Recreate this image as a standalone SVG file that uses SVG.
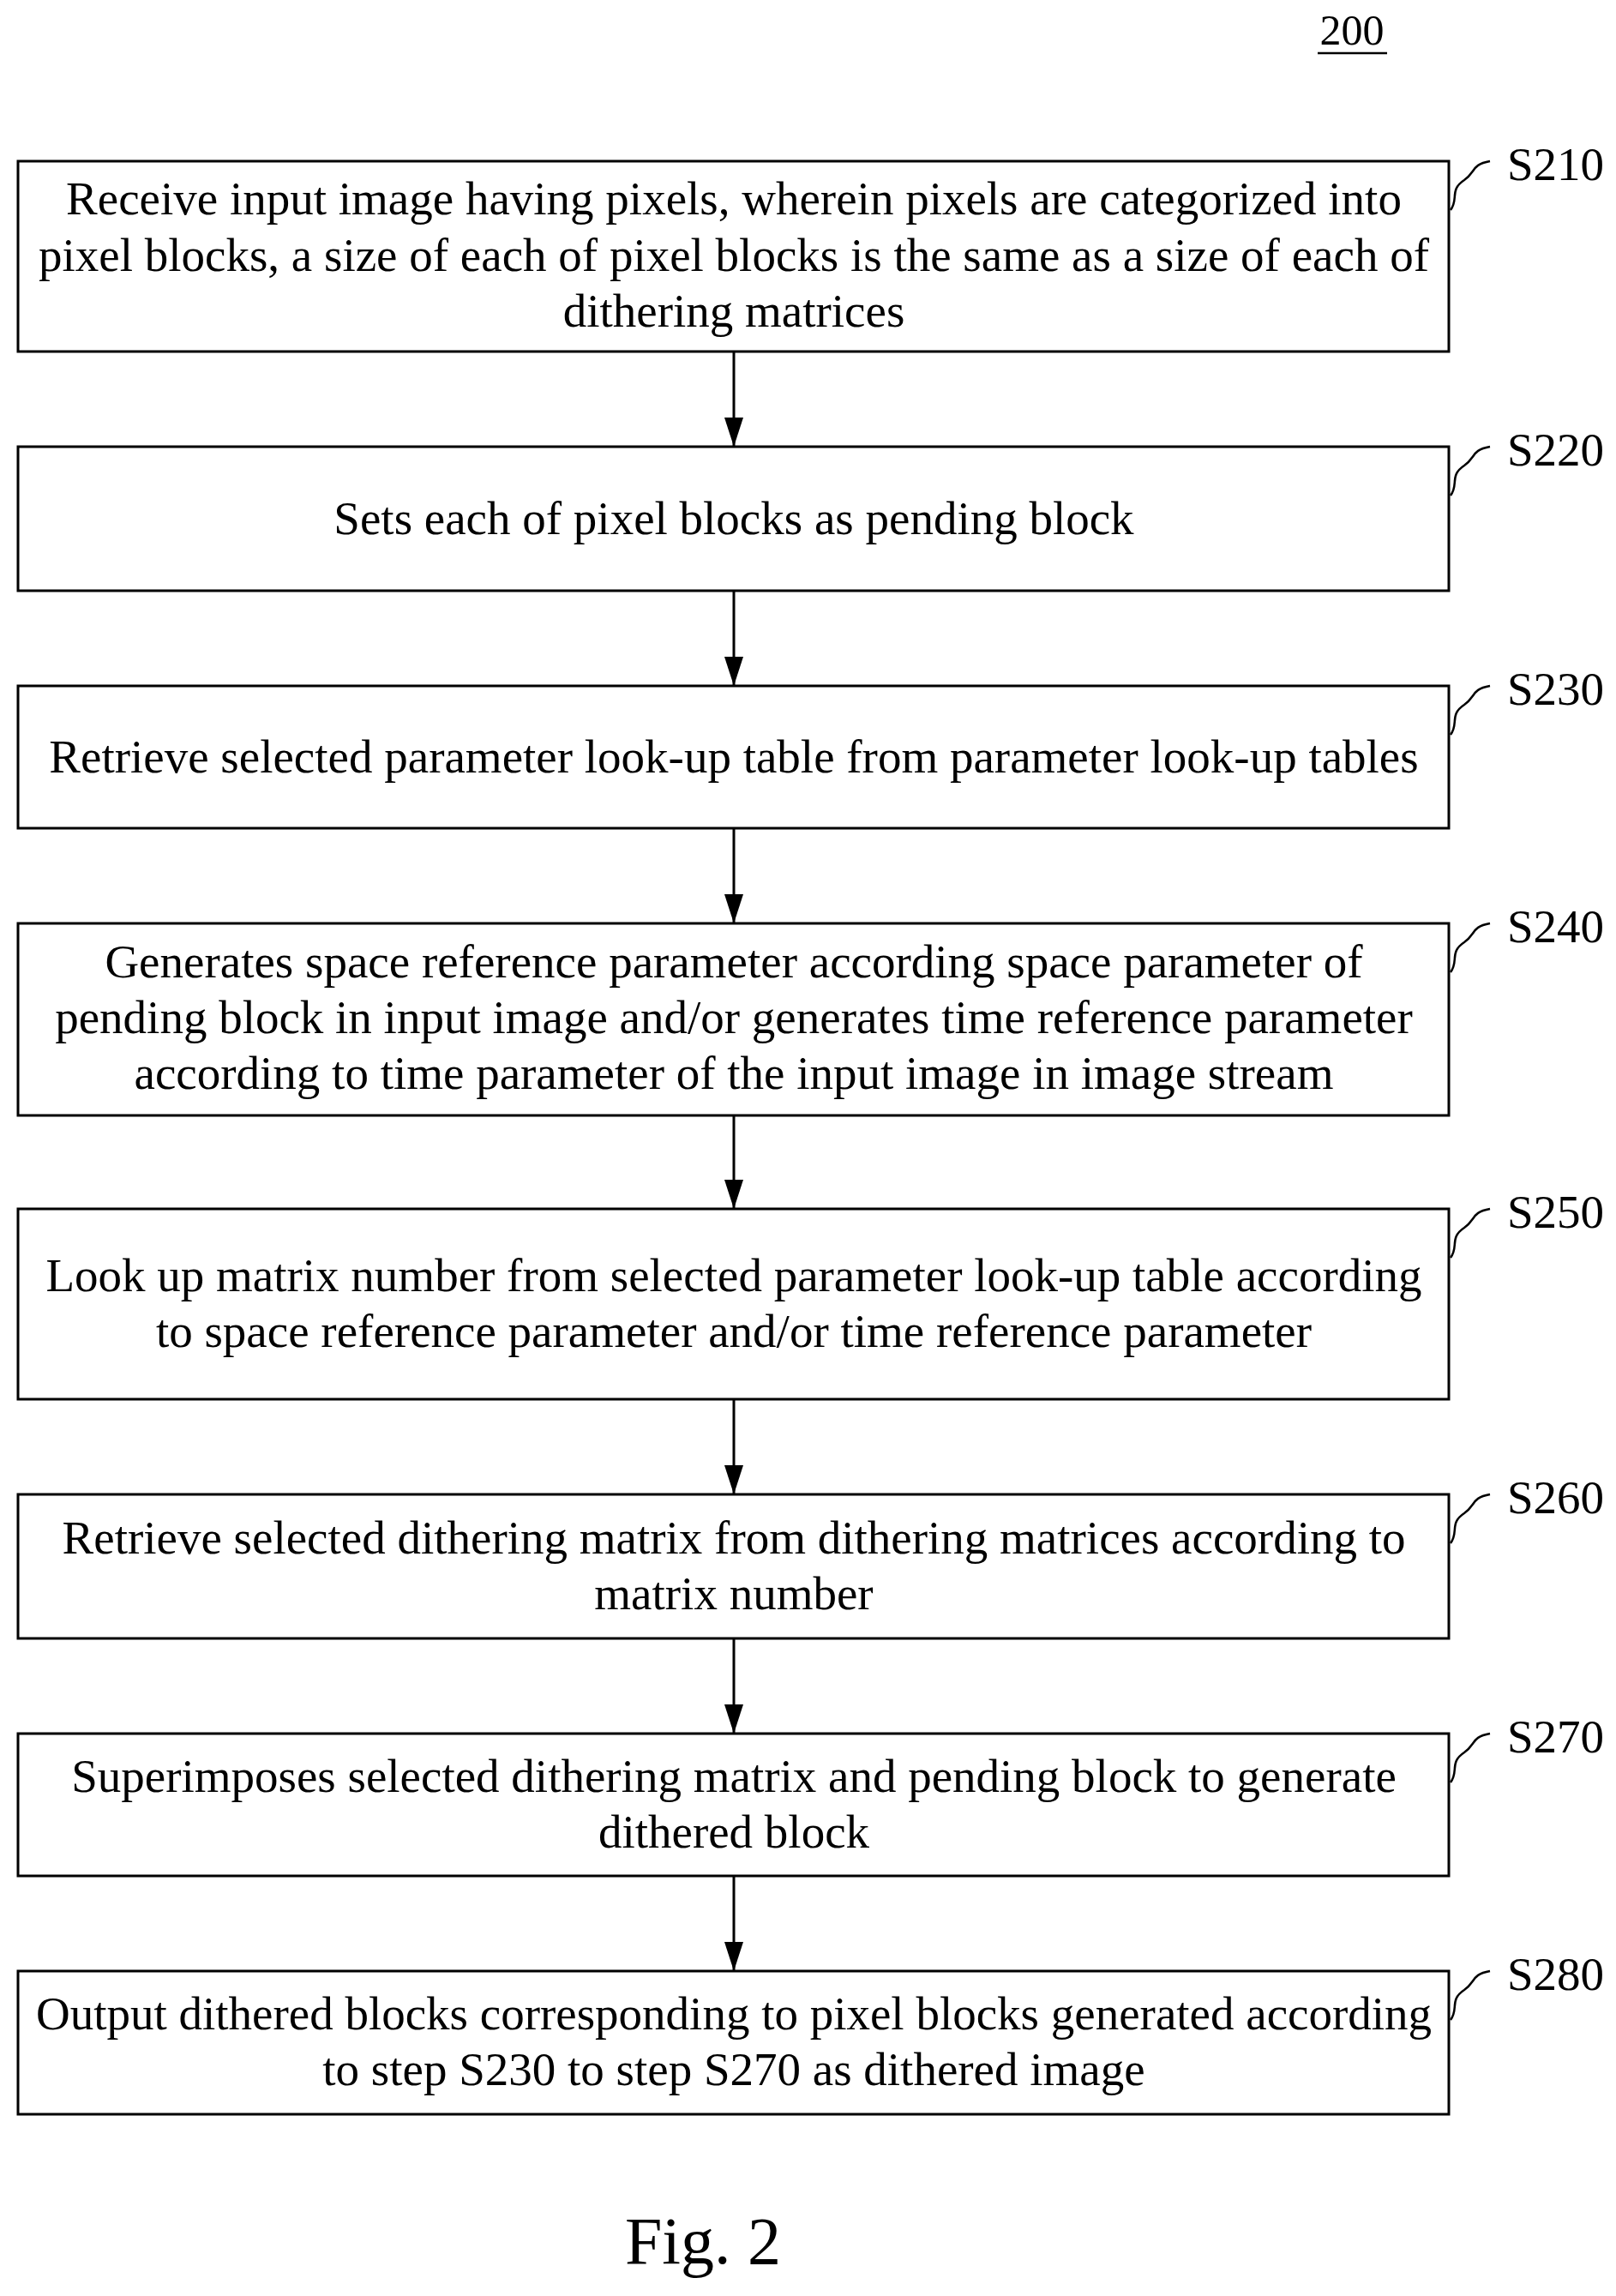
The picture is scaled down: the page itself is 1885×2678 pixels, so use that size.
<svg xmlns="http://www.w3.org/2000/svg" width="1885" height="2678" viewBox="0 0 1885 2678">
<defs><marker id="ah" markerWidth="34" markerHeight="22" refX="34" refY="11" orient="auto" markerUnits="userSpaceOnUse"><path d="M0,0 L34,11 L0,22 Z" fill="#000"/></marker>
<style>
.b{fill:#fff;stroke:#000;stroke-width:3}
text{font-family:"Liberation Serif",serif;font-size:55px;fill:#000;text-anchor:middle}
.l{text-anchor:start}
.s{fill:none;stroke:#000;stroke-width:2.5}
.c{stroke:#000;stroke-width:3;fill:none}
</style></defs>
<rect width="1885" height="2678" fill="#fff"/>
<text x="1577" y="52" style="font-size:50px">200</text><line x1="1537" y1="62" x2="1618" y2="62" stroke="#000" stroke-width="2.5"/>
<g id="connectors">
<line class="c" x1="856" y1="410" x2="856" y2="521" marker-end="url(#ah)"/>
<line class="c" x1="856" y1="689" x2="856" y2="800" marker-end="url(#ah)"/>
<line class="c" x1="856" y1="966" x2="856" y2="1077" marker-end="url(#ah)"/>
<line class="c" x1="856" y1="1301" x2="856" y2="1410" marker-end="url(#ah)"/>
<line class="c" x1="856" y1="1632" x2="856" y2="1743" marker-end="url(#ah)"/>
<line class="c" x1="856" y1="1911" x2="856" y2="2022" marker-end="url(#ah)"/>
<line class="c" x1="856" y1="2188" x2="856" y2="2299" marker-end="url(#ah)"/>
</g>
<g id="S210"><rect class="b" x="21" y="188" width="1669" height="222"/>
<text x="856" y="250">Receive input image having pixels, wherein pixels are categorized into</text>
<text x="856" y="316">pixel blocks, a size of each of pixel blocks is the same as a size of each of</text>
<text x="856" y="381">dithering matrices</text>
<path class="s" d="M1692,245 C1702,232 1690,222 1708,210 C1722,200 1716,192 1738,188"/><text class="l" x="1758" y="210">S210</text></g>
<g id="S220"><rect class="b" x="21" y="521" width="1669" height="168"/>
<text x="856" y="623">Sets each of pixel blocks as pending block</text>
<path class="s" d="M1692,578 C1702,565 1690,555 1708,543 C1722,533 1716,525 1738,521"/><text class="l" x="1758" y="543">S220</text></g>
<g id="S230"><rect class="b" x="21" y="800" width="1669" height="166"/>
<text x="856" y="901">Retrieve selected parameter look-up table from parameter look-up tables</text>
<path class="s" d="M1692,857 C1702,844 1690,834 1708,822 C1722,812 1716,804 1738,800"/><text class="l" x="1758" y="822">S230</text></g>
<g id="S240"><rect class="b" x="21" y="1077" width="1669" height="224"/>
<text x="856" y="1140">Generates space reference parameter according space parameter of</text>
<text x="856" y="1205">pending block in input image and/or generates time reference parameter</text>
<text x="856" y="1270">according to time parameter of the input image in image stream</text>
<path class="s" d="M1692,1134 C1702,1121 1690,1111 1708,1099 C1722,1089 1716,1081 1738,1077"/><text class="l" x="1758" y="1099">S240</text></g>
<g id="S250"><rect class="b" x="21" y="1410" width="1669" height="222"/>
<text x="856" y="1506">Look up matrix number from selected parameter look-up table according</text>
<text x="856" y="1571">to space reference parameter and/or time reference parameter</text>
<path class="s" d="M1692,1467 C1702,1454 1690,1444 1708,1432 C1722,1422 1716,1414 1738,1410"/><text class="l" x="1758" y="1432">S250</text></g>
<g id="S260"><rect class="b" x="21" y="1743" width="1669" height="168"/>
<text x="856" y="1812">Retrieve selected dithering matrix from dithering matrices according to</text>
<text x="856" y="1877">matrix number</text>
<path class="s" d="M1692,1800 C1702,1787 1690,1777 1708,1765 C1722,1755 1716,1747 1738,1743"/><text class="l" x="1758" y="1765">S260</text></g>
<g id="S270"><rect class="b" x="21" y="2022" width="1669" height="166"/>
<text x="856" y="2090">Superimposes selected dithering matrix and pending block to generate</text>
<text x="856" y="2155">dithered block</text>
<path class="s" d="M1692,2079 C1702,2066 1690,2056 1708,2044 C1722,2034 1716,2026 1738,2022"/><text class="l" x="1758" y="2044">S270</text></g>
<g id="S280"><rect class="b" x="21" y="2299" width="1669" height="167"/>
<text x="856" y="2367">Output dithered blocks corresponding to pixel blocks generated according</text>
<text x="856" y="2432">to step S230 to step S270 as dithered image</text>
<path class="s" d="M1692,2356 C1702,2343 1690,2333 1708,2321 C1722,2311 1716,2303 1738,2299"/><text class="l" x="1758" y="2321">S280</text></g>
<text x="820" y="2640" style="font-size:78px">Fig. 2</text>
</svg>
